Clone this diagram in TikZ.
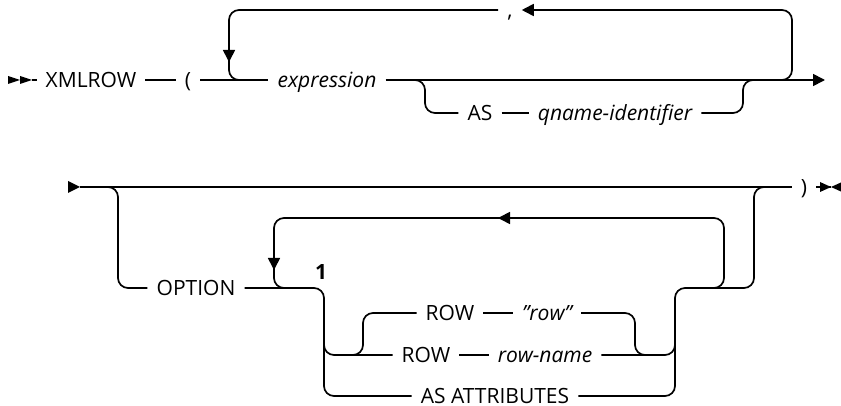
\documentclass[tikz,border=0pt]{standalone}
\usepackage{fontspec}
\setmainfont{Open Sans}
\usetikzlibrary{arrows.meta}

\begin{document}
\begin{tikzpicture}[x=1pt, y=-1pt,
    rail/.style={line width=1.7pt, rounded corners=10pt},
    tip/.style={line width=1.7pt, -{Triangle[length=12pt,width=12pt]}},
    kw/.style={inner xsep=9pt, inner ysep=0pt, text height=15pt, text depth=0pt, font=\fontsize{21}{24}\selectfont},
    var/.style={kw, font=\fontsize{21}{24}\selectfont\itshape}]
        \useasboundingbox (0,0) rectangle (841,406);
        % first line
        \fill (8,76) -- (20,80) -- (8,84) -- cycle;
        \fill (20,76) -- (32,80) -- (20,84) -- cycle;
        \coordinate (st1) at (32,80);
        \node[kw] (xmlrow) at (91,80) {XMLROW};
        \node[kw] (lpar) at (188,80) {(};
        \node[var] (expr) at (327,80) {expression};
        \node[kw] (comma) at (510,10) {,};
        \node[kw] (kwas) at (480,113) {AS};
        \node[var] (qname) at (615,113) {qname-identifier};
        \coordinate (end1) at (825,80);
        \draw[rail] (st1) -- (xmlrow.west);
        \draw[rail] (xmlrow.east) -- (lpar.west);
        \draw[rail] (lpar.east) -- (expr.west);
        \draw[tip] (expr.east) -- (end1);
        \draw[rail, -{Triangle[length=12pt,width=12pt]}] (760,80) -- (792,80) -- (792,10) -- (comma.east);
        \draw[rail] (comma.west) -- (229,10) -- (229,80) -- (260,80);
        \draw[tip] (229,40) -- (229,62);
        \draw[rail] (405,80) -- (425,80) -- (425,113) -- (kwas.west);
        \draw[rail] (kwas.east) -- (qname.west);
        \draw[rail] (qname.east) -- (743,113) -- (743,80) -- (760,80);
        % second line
        \fill (68,181) -- (80,187) -- (68,193) -- cycle;
        \coordinate (st2) at (80,187);
        \node[kw] (rpar) at (804,187) {)};
        \node[kw] (option) at (196,288) {OPTION};
        \node[kw, font=\fontsize{21}{24}\selectfont\bfseries] (one) at (321,272) {1};
        \node[kw] (row1) at (450,313) {ROW};
        \node[var] (rowq) at (547,313) {"row"};
        \node[kw] (row2) at (426,355) {ROW};
        \node[var] (rowname) at (545,355) {row-name};
        \node[kw] (asattr) at (495,396) {AS ATTRIBUTES};
        \draw[rail] (st2) -- (rpar.west);
        \draw[rail] (rpar.east) -- (831,187);
        \fill (820,182) -- (831,187) -- (820,192) -- cycle;
        \fill (842,182) -- (831,187) -- (842,192) -- cycle;
        \draw[rail] (100,187) -- (118,187) -- (118,288) -- (option.west);
        \draw[rail] (option.east) -- (324,288) -- (324,355) -- (row2.west);
        \draw[rail] (324,330) -- (324,396) -- (asattr.west);
        \draw[rail] (345,355) -- (363,355) -- (363,313) -- (row1.west);
        \draw[rail] (row1.east) -- (rowq.west);
        \draw[rail] (rowq.east) -- (635,313) -- (635,355) -- (655,355);
        \draw[rail] (row2.east) -- (rowname.west);
        \draw[rail] (rowname.east) -- (675,355) -- (675,288) -- (754,288) -- (754,187) -- (775,187);
        \draw[rail] (asattr.east) -- (675,396) -- (675,330);
        \draw[rail, -{Triangle[length=12pt,width=12pt]}] (700,288) -- (724,288) -- (724,218) -- (498,218);
        \draw[rail] (505,218) -- (274,218) -- (274,288) -- (300,288);
        \draw[tip] (274,240) -- (274,270);
\end{tikzpicture}
\end{document}
